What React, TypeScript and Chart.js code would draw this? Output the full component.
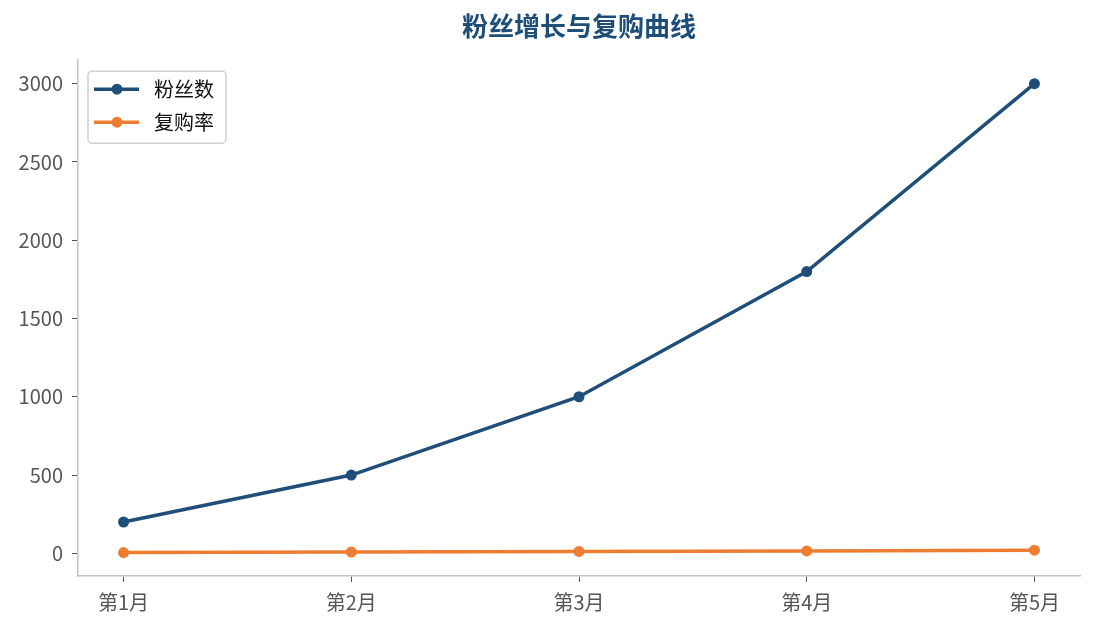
import { useEffect, useRef } from "react";
import { Chart, registerables } from "chart.js";

Chart.register(...registerables);

const months = ["第1月", "第2月", "第3月", "第4月", "第5月"];
const fans = [200, 500, 1000, 1800, 3000];
const repurchase = [5, 8, 12, 15, 20];
const yTicks = [0, 500, 1000, 1500, 2000, 2500, 3000];

const FONT = "'Noto Sans CJK SC', 'Noto Sans', sans-serif";
const BLUE = "#1f4e79";
const ORANGE = "#ed7d31";

// legend drawn inside the plot, upper left
const insideLegend = {
  id: "insideLegend",
  afterDraw(chart: Chart) {
    const { ctx, chartArea } = chart;
    const x = chartArea.left + 10;
    const y = chartArea.top + 11;
    const w = 138;
    const h = 72;
    ctx.save();
    ctx.beginPath();
    ctx.roundRect(x, y, w, h, 4);
    ctx.fillStyle = "rgba(255,255,255,0.8)";
    ctx.fill();
    ctx.lineWidth = 1.5;
    ctx.strokeStyle = "#d0d0d0";
    ctx.stroke();
    ctx.font = `20px ${FONT}`;
    ctx.textBaseline = "middle";
    chart.data.datasets.forEach((ds: any, i: number) => {
      const ly = y + 18 + i * 33;
      ctx.strokeStyle = ds.borderColor;
      ctx.lineWidth = 3.5;
      ctx.beginPath();
      ctx.moveTo(x + 6, ly);
      ctx.lineTo(x + 51, ly);
      ctx.stroke();
      ctx.fillStyle = ds.borderColor;
      ctx.beginPath();
      ctx.arc(x + 29, ly, 5.5, 0, Math.PI * 2);
      ctx.fill();
      ctx.fillStyle = "#111";
      ctx.fillText(ds.label, x + 66, ly);
    });
    ctx.restore();
  },
};

export default function App() {
  const canvasRef = useRef<HTMLCanvasElement>(null);

  useEffect(() => {
    document.body.style.margin = "0";
    if (!canvasRef.current) return;
    const chart = new Chart(canvasRef.current, {
      type: "line",
      data: {
        datasets: [
          {
            label: "粉丝数",
            data: fans.map((v, i) => ({ x: i, y: v })),
            borderColor: BLUE,
            backgroundColor: BLUE,
            borderWidth: 3.5,
            pointRadius: 5.5,
            pointBorderWidth: 0,
          },
          {
            label: "复购率",
            data: repurchase.map((v, i) => ({ x: i, y: v })),
            borderColor: ORANGE,
            backgroundColor: ORANGE,
            borderWidth: 3.5,
            pointRadius: 5.5,
            pointBorderWidth: 0,
          },
        ],
      },
      options: {
        animation: false,
        responsive: true,
        maintainAspectRatio: false,
        layout: { padding: { left: 0, right: 15, top: 0, bottom: 0 } },
        plugins: {
          legend: { display: false },
          tooltip: { enabled: false },
          title: {
            display: true,
            text: "粉丝增长与复购曲线",
            fullSize: false,
            color: BLUE,
            font: { family: FONT, size: 26, weight: "bold", lineHeight: 1.2 },
            padding: { top: 11, bottom: 18 },
          },
        },
        scales: {
          x: {
            type: "linear",
            min: -0.2,
            max: 4.2,
            afterBuildTicks: (axis: any) => {
              axis.ticks = months.map((_, i) => ({ value: i }));
            },
            afterFit: (axis: any) => {
              axis.height = 53;
            },
            ticks: {
              autoSkip: false,
              maxRotation: 0,
              padding: 8,
              color: "#555",
              font: { family: FONT, size: 20 },
              callback: (v: any) => months[v] ?? "",
            },
            grid: { drawOnChartArea: false, drawTicks: true, tickLength: 6, color: "#555" },
            border: { display: true, color: "#c4c4c4", width: 1.5 },
          },
          y: {
            type: "linear",
            min: -145,
            max: 3150,
            afterBuildTicks: (axis: any) => {
              axis.ticks = yTicks.map((v) => ({ value: v }));
            },
            afterFit: (axis: any) => {
              axis.width = 78;
            },
            ticks: {
              padding: 9,
              color: "#555",
              font: { family: FONT, size: 20 },
              callback: (v: any) => String(v),
            },
            grid: { drawOnChartArea: false, drawTicks: true, tickLength: 6, color: "#555" },
            border: { display: true, color: "#c4c4c4", width: 1.5 },
          },
        },
      },
      plugins: [insideLegend],
    });
    return () => chart.destroy();
  }, []);

  return (
    <div style={{ width: 1095, height: 629, position: "relative" }}>
      <canvas ref={canvasRef} />
    </div>
  );
}
